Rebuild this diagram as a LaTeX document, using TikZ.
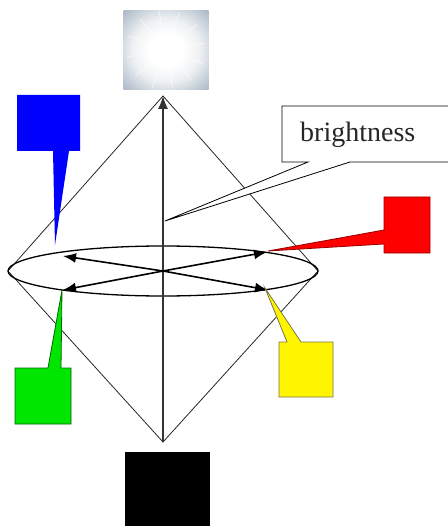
\documentclass[tikz,border=0pt]{standalone}
\usepackage{fontspec}
\setmainfont{Liberation Serif}
\usetikzlibrary{arrows.meta}
\definecolor{skyedge}{RGB}{168,182,196}
\definecolor{greenfill}{RGB}{0,230,0}
\definecolor{yellowfill}{RGB}{255,245,0}
\pgfdeclareradialshading{glow}{\pgfpoint{0bp}{0bp}}{color(0bp)=(white); color(10bp)=(white); color(20bp)=(white!80!skyedge); color(28bp)=(white!40!skyedge); color(36bp)=(skyedge); color(50bp)=(skyedge)}
\begin{document}
\begin{tikzpicture}[x=1pt,y=-1pt,
  thinline/.style={line width=0.8pt,draw=black!85},
  axisline/.style={line width=1.3pt,draw=black!80},
  ringarrow/.style={line width=1.6pt,-{Latex[length=13pt,width=10pt]}},
  callout/.style={line width=0.8pt,line join=miter}]
\useasboundingbox (0,0) rectangle (447,526);
% key points
\coordinate (top) at (163,96);
\coordinate (bot) at (163,442);
\coordinate (ctr) at (163,271);
\coordinate (le) at (8,271);
\coordinate (re) at (318,271);
\coordinate (ul) at (63,256);
\coordinate (ur) at (267,252);
\coordinate (ll) at (63,290);
\coordinate (lr) at (268,290);
% white light square
\node (white) [draw=none,minimum width=85pt,minimum height=79pt,inner sep=0pt,shading=glow] at (166,50) {};
\foreach \a in {10,40,...,359}{\draw[white,line width=1pt,opacity=0.5] (white.center) ++(\a:15pt) -- ++(\a:25pt);}
% black square
\node (black) [fill=black,minimum width=85pt,minimum height=80pt,inner sep=0pt,anchor=north west] at (125,452) {};
% cone lines
\draw[thinline] (top) -- (le) -- (bot) -- (re) -- cycle;
% ellipse
\draw[line width=1.3pt] (ctr) ellipse [x radius=155pt,y radius=25pt];
% axis
\draw[axisline,-{Latex[length=13pt,width=10pt]}] (bot) -- (top);
% ring arrows
\draw[ringarrow] (ctr) -- (ul);
\draw[ringarrow] (ctr) -- (ur);
\draw[ringarrow] (ctr) -- (ll);
\draw[ringarrow] (ctr) -- (lr);
% blue callout
\coordinate (btip) at (55,245);
\fill[blue] (17,95) -- (80,95) -- (80,151) -- (69,151) -- (btip) -- (53,151) -- (17,151) -- cycle;
% green callout
\coordinate (gtip) at (62,290);
\filldraw[callout,fill=greenfill,draw=green!40!black] (15,368) -- (48,368) -- (gtip) -- (61,368) -- (71,368) -- (71,424) -- (15,424) -- cycle;
% yellow callout
\coordinate (ytip) at (265,288);
\filldraw[callout,fill=yellowfill,draw=black!60!yellow] (279,342) -- (287,342) -- (ytip) -- (301,342) -- (333,342) -- (333,397) -- (279,397) -- cycle;
% red callout
\coordinate (rtip) at (268,251);
\filldraw[callout,fill=red,draw=red!60!black] (384,197) -- (430,197) -- (430,253) -- (384,253) -- (384,244) -- (rtip) -- (384,230) -- cycle;
% brightness callout
\coordinate (wtip) at (165,221);
\filldraw[callout,fill=white,draw=black] (282,106) -- (460,106) -- (460,162) -- (350,162) -- (wtip) -- (308,162) -- (282,162) -- cycle;
\node (bright) [font=\fontsize{28}{30}\selectfont,text=black!85,anchor=base west,inner sep=0pt] at (300,142) {brightness};
\end{tikzpicture}
\end{document}
